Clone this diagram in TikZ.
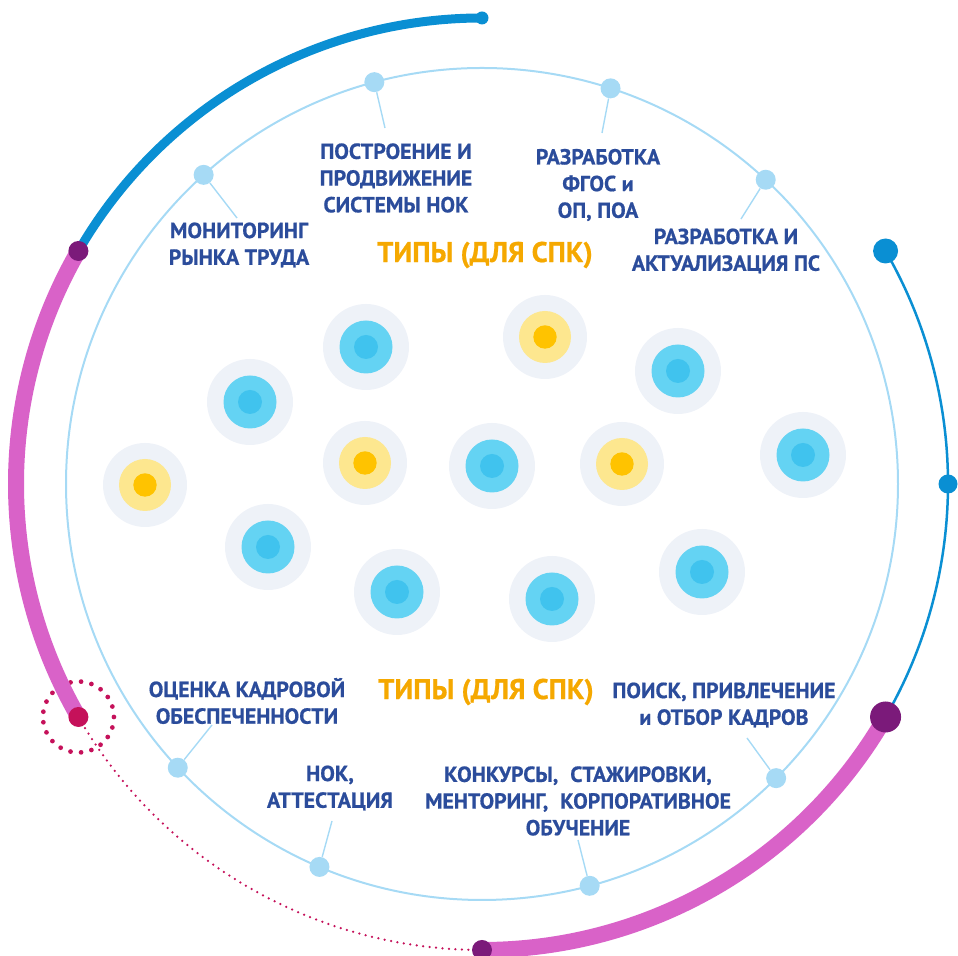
\documentclass[tikz,border=0pt]{standalone}
\usepackage{fontspec}
\setmainfont{PT Sans}[BoldFeatures={FakeBold=0.7}]
\usetikzlibrary{calc}
\definecolor{arcblue}{HTML}{0A8FD3}
\definecolor{pinkarc}{HTML}{D962C8}
\definecolor{purpledot}{HTML}{7B1A7A}
\definecolor{crimson}{HTML}{C5115A}
\definecolor{ringblue}{HTML}{A6DAF5}
\definecolor{txtblue}{HTML}{2B4C9B}
\definecolor{orangetxt}{HTML}{F5A800}
\definecolor{halo}{HTML}{EEF2F8}
\definecolor{bluemid}{HTML}{64D3F3}
\definecolor{bluein}{HTML}{40C3EE}
\definecolor{yelmid}{HTML}{FDE78F}
\definecolor{yelin}{HTML}{FFC300}
\begin{document}
\begin{tikzpicture}[x=0.02cm,y=0.02cm,
  ringdot/.style={circle,fill=ringblue,inner sep=0pt,minimum size=0.4cm},
  leader/.style={ringblue,line width=0.028cm},
  lbl/.style={text=txtblue,font=\bfseries\fontsize{12.4}{15.2}\selectfont,align=center,inner sep=0pt},
  ttl/.style={text=orangetxt,font=\bfseries\fontsize{16.2}{19}\selectfont,inner sep=0pt},
  enddot/.style={circle,inner sep=0pt,fill=#1},
  pics/bluebub/.style={code={
    \fill[halo] (0,0) circle[radius=43];
    \fill[bluemid] (0,0) circle[radius=26.5];
    \fill[bluein] (0,0) circle[radius=12];}},
  pics/yelbub/.style={code={
    \fill[halo] (0,0) circle[radius=42];
    \fill[yelmid] (0,0) circle[radius=26];
    \fill[yelin] (0,0) circle[radius=11.7];}}
]
\useasboundingbox (0,0) rectangle (958,956);
\coordinate (C) at (482,472);

% inner ring
\draw[ringblue,line width=0.04cm] (C) circle[radius=416];

% leader ends
\coordinate (e1) at (237,738);
\coordinate (e2) at (385,828);
\coordinate (e3) at (602,823);
\coordinate (e4) at (741,737);
\coordinate (e5) at (212,231);
\coordinate (e6) at (332,135);
\coordinate (e7) at (578,116);
\coordinate (e8) at (747,218);

\foreach \a/\n in {132/d1,105/d2,72/d3,47/d4,223/d5,247/d6,285/d7,315/d8}
  \node[ringdot] (\n) at ($(C)+(\a:416)$) {};
\foreach \i in {1,...,8}
  \draw[leader] (d\i) -- (e\i);

% bubbles
\foreach \p in {(250,554),(366,609),(678,585),(492,490),(803,501),(268,409),(397,364),(552,357),(702,384)}
  \pic at \p {bluebub};
\foreach \p in {(145,471),(365,493),(545,619),(622,492)}
  \pic at \p {yelbub};

% labels
\node[lbl] (t1) at (239,711) {МОНИТОРИНГ\\РЫНКА ТРУДА};
\node[lbl] (t2) at (396,778) {ПОСТРОЕНИЕ И\\ПРОДВИЖЕНИЕ\\СИСТЕМЫ НОК};
\node[lbl] (t3) at (598,771) {РАЗРАБОТКА\\ФГОС и\\ОП, ПОА};
\node[lbl] (t4) at (726,705) {РАЗРАБОТКА И\\АКТУАЛИЗАЦИЯ ПС};
\node[ttl] (h1) at (485,701) {ТИПЫ (ДЛЯ СПК)};
\node[ttl] (h2) at (486,264) {ТИПЫ (ДЛЯ СПК)};
\node[lbl] (t5) at (247,255) {ОЦЕНКА КАДРОВОЙ\\ОБЕСПЕЧЕННОСТИ};
\node[lbl] (t6) at (330,168) {НОК,\\АТТЕСТАЦИЯ};
\node[lbl] (t7) at (578,155) {КОНКУРСЫ,\hspace{0.55em}СТАЖИРОВКИ,\\МЕНТОРИНГ,\hspace{0.55em}КОРПОРАТИВНОЕ\\ОБУЧЕНИЕ};
\node[lbl] (t8) at (724,251) {ПОИСК, ПРИВЛЕЧЕНИЕ\\и ОТБОР КАДРОВ};

% outer arcs
\draw[crimson,line width=0.095cm,line cap=round,dash pattern=on 0pt off 0.2124cm] ($(C)+(210:466)$) ++(0:35.5) arc[start angle=0,end angle=360,radius=35.5];
\draw[arcblue,line width=0.18cm] ($(C)+(90:466)$) arc[start angle=90,end angle=150,radius=466];
\draw[pinkarc,line width=0.32cm] ($(C)+(150:466)$) arc[start angle=150,end angle=210,radius=466];
\draw[crimson,line width=0.05cm,line cap=round,dash pattern=on 0pt off 0.13cm] ($(C)+(210:466)$) arc[start angle=210,end angle=270,radius=466];
\draw[pinkarc,line width=0.32cm] ($(C)+(270:466)$) arc[start angle=270,end angle=330,radius=466];
\draw[arcblue,line width=0.05cm] ($(C)+(330:466)$) arc[start angle=330,end angle=390,radius=466];

% end dots
\node[enddot=arcblue,minimum size=0.26cm] (o1) at ($(C)+(90:466)$) {};
\node[enddot=purpledot,minimum size=0.4cm] (o2) at ($(C)+(150:466)$) {};
\node[enddot=crimson,minimum size=0.4cm] (o3) at ($(C)+(210:466)$) {};
\node[enddot=purpledot,minimum size=0.4cm] (o4) at ($(C)+(270:466)$) {};
\node[enddot=purpledot,minimum size=0.62cm] (o5) at ($(C)+(330:466)$) {};
\node[enddot=arcblue,minimum size=0.38cm] (o6) at ($(C)+(0:466)$) {};
\node[enddot=arcblue,minimum size=0.5cm] (o7) at ($(C)+(30:466)$) {};
\end{tikzpicture}
\end{document}
